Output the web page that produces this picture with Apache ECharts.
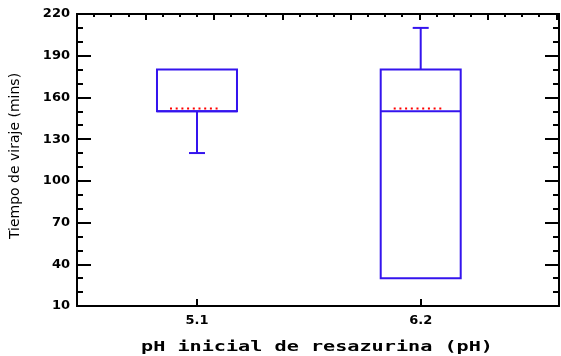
<!DOCTYPE html>
<html>
<head>
<meta charset="utf-8">
<script src="https://cdn.jsdelivr.net/npm/echarts@6/dist/echarts.min.js"></script>
<style>
html,body{margin:0;padding:0;background:#fff;}
#chart{width:561px;height:356px;}
</style>
</head>
<body>
<div id="chart"></div>
<script>
// ---- data ----
const categories = ['5.1', '6.2'];
const minVals = [120, 30];
const q1Vals = [150, 30];
const medianVals = [150, 150];
const q3Vals = [180, 180];
const maxVals = [180, 210];
const meanVals = [152, 152];
const yTickLabels = [10, 40, 70, 100, 130, 160, 190, 220];
const yMinorTicks = [10, 20, 30, 40, 50, 60, 70, 80, 90, 100, 110, 120, 130, 140, 150, 160, 170, 180, 190, 200, 210, 220];
const xTickLabels = [5.1, 6.2];
const xTitle = 'pH inicial de resazurina (pH)';
const yTitle = 'Tiempo de viraje (mins)';

const boxData = categories.map((c, i) => [Number(c), minVals[i], q1Vals[i], medianVals[i], q3Vals[i], maxVals[i], meanVals[i]]);

const BLUE = '#3414ee';
const AX = '#000';
const labelFont = { fontFamily: 'DejaVu Sans', fontWeight: 'bold', fontSize: 13, color: '#000' };

function yAx(pos, ticks, len, showLabel) {
  return {
    type: 'value', position: pos, min: 10, max: 220,
    axisLine: { show: true, lineStyle: { color: AX, width: 2 } },
    axisTick: { show: true, inside: true, length: len, customValues: ticks, lineStyle: { color: AX, width: 2 } },
    axisLabel: showLabel ? Object.assign({ show: true, margin: 7, customValues: ticks }, labelFont) : { show: false },
    splitLine: { show: false }
  };
}

const option = {
  animation: false,
  backgroundColor: '#fff',
  grid: { left: 77, right: 2, top: 14, bottom: 50 },
  xAxis: [
    {
      type: 'value', position: 'bottom', min: 4.51, max: 6.88,
      axisLine: { show: true, lineStyle: { color: AX, width: 2 } },
      axisTick: { show: true, inside: true, length: 7, customValues: xTickLabels, lineStyle: { color: AX, width: 2 } },
      axisLabel: Object.assign({ show: true, margin: 8, customValues: xTickLabels, formatter: v => Number(v).toFixed(1) }, labelFont),
      splitLine: { show: false }
    },
    {
      type: 'value', position: 'top', min: 0, max: 7.04, interval: 1,
      axisLine: { show: true, lineStyle: { color: AX, width: 2 } },
      axisTick: { show: true, inside: true, length: 6, lineStyle: { color: AX, width: 2 } },
      minorTick: { show: true, splitNumber: 4, length: 3, lineStyle: { color: AX, width: 2 } },
      axisLabel: { show: false },
      splitLine: { show: false }, minorSplitLine: { show: false }
    }
  ],
  yAxis: [
    yAx('left', yTickLabels, 14, true),
    yAx('left', yMinorTicks, 6, false),
    yAx('right', yTickLabels, 14, false),
    yAx('right', yMinorTicks, 6, false)
  ],
  graphic: [
    {
      type: 'text', x: 317, y: 347, scaleX: 1.44,
      style: { text: xTitle, font: 'bold 14px "DejaVu Sans Mono"', fill: '#000', textAlign: 'center', textVerticalAlign: 'middle' }
    },
    {
      type: 'text', x: 15, y: 156, rotation: Math.PI / 2,
      style: { text: yTitle, font: '14px "DejaVu Sans"', fill: '#000', textAlign: 'center', textVerticalAlign: 'middle' }
    }
  ],
  series: [{
    type: 'custom',
    xAxisIndex: 0, yAxisIndex: 0,
    data: boxData,
    encode: { x: 0, y: [1, 2, 3, 4, 5, 6] },
    renderItem: function (params, api) {
      const x = api.value(0);
      const pMin = api.coord([x, api.value(1)]);
      const pQ1 = api.coord([x, api.value(2)]);
      const pMed = api.coord([x, api.value(3)]);
      const pQ3 = api.coord([x, api.value(4)]);
      const pMax = api.coord([x, api.value(5)]);
      const pMean = api.coord([x, api.value(6)]);
      const cx = pQ1[0];
      const hw = 40, cap = 8;
      const ls = { stroke: BLUE, lineWidth: 2, fill: null };
      const children = [
        { type: 'rect', shape: { x: cx - hw, y: pQ3[1], width: 2 * hw, height: pQ1[1] - pQ3[1] }, style: Object.assign({}, ls) },
        { type: 'line', shape: { x1: cx - hw, y1: pMed[1], x2: cx + hw, y2: pMed[1] }, style: Object.assign({}, ls) }
      ];
      if (pMax[1] < pQ3[1] - 0.5) {
        children.push({ type: 'line', shape: { x1: cx, y1: pQ3[1], x2: cx, y2: pMax[1] }, style: Object.assign({}, ls) });
        children.push({ type: 'line', shape: { x1: cx - cap, y1: pMax[1], x2: cx + cap, y2: pMax[1] }, style: Object.assign({}, ls) });
      }
      if (pMin[1] > pQ1[1] + 0.5) {
        children.push({ type: 'line', shape: { x1: cx, y1: pQ1[1], x2: cx, y2: pMin[1] }, style: Object.assign({}, ls) });
        children.push({ type: 'line', shape: { x1: cx - cap, y1: pMin[1], x2: cx + cap, y2: pMin[1] }, style: Object.assign({}, ls) });
      }
      children.push({ type: 'line', shape: { x1: cx - 27, y1: pMean[1], x2: cx + 24, y2: pMean[1] },
        style: { stroke: '#ff0000', lineWidth: 2, lineDash: [2, 3.7], fill: null } });
      return { type: 'group', children: children };
    }
  }]
};

const chart = echarts.init(document.getElementById('chart'), null, { renderer: 'canvas' });
chart.setOption(option);
</script>
</body>
</html>
